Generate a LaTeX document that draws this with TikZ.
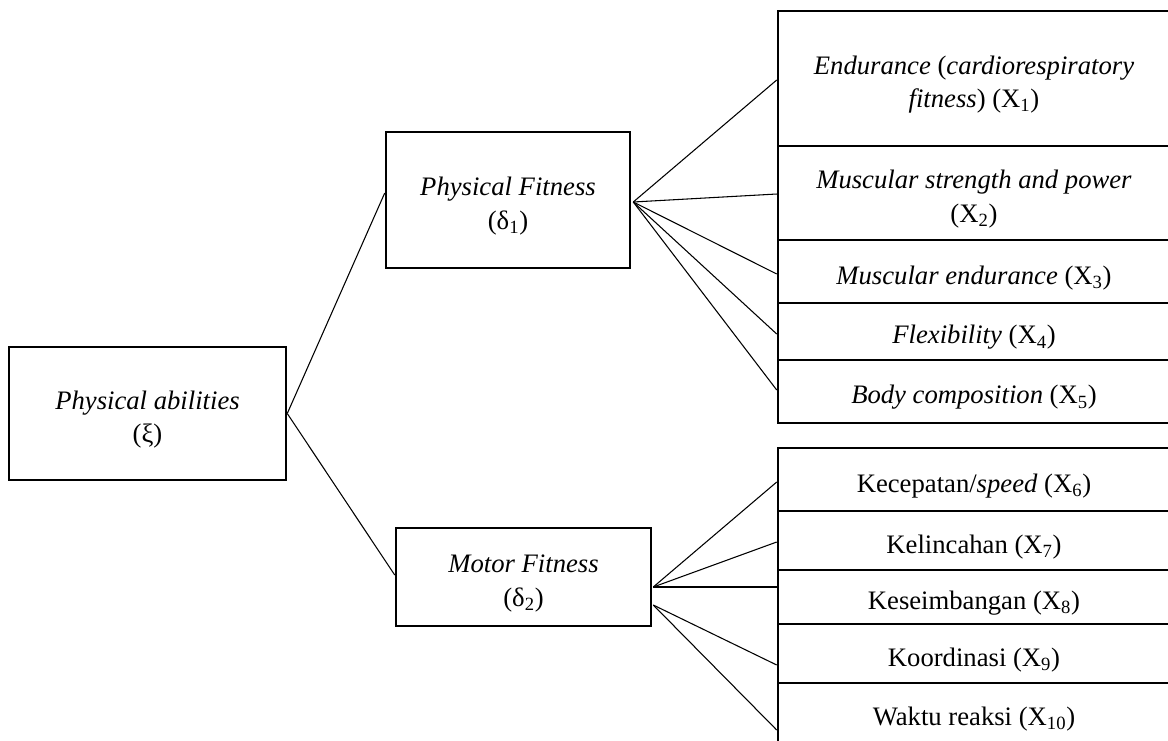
\documentclass[tikz,border=0pt]{standalone}
\usepackage{fontspec}
\setmainfont{Liberation Serif}
\usetikzlibrary{calc}
\newcommand\lowerstrut{\rule{0pt}{1.15em}}
\begin{document}
\begin{tikzpicture}[x=0.75pt,y=-0.75pt,
  box/.style={draw,line width=1.9pt,inner sep=0pt,align=center,
    font=\fontsize{20}{25}\selectfont},
  rowbox/.style={box,minimum width=294pt},
  link/.style={line width=0.8pt}]
\useasboundingbox (0,0) rectangle (1168,740);
% main boxes
\node[box,minimum width=207.75pt,minimum height=99.75pt] (pa) at (147.5,413.5)
  {\lowerstrut\textit{Physical abilities}\\(ξ)};
\node[box,minimum width=183pt,minimum height=102pt] (pf) at (508,200)
  {\lowerstrut\textit{Physical Fitness}\\(δ\textsubscript{1})};
\node[box,minimum width=191.25pt,minimum height=73.5pt] (mf) at (523.5,577)
  {\lowerstrut\textit{Motor Fitness}\\(δ\textsubscript{2})};
% physical fitness indicators
\node[rowbox,minimum height=101.25pt] (x1) at (974,78.5)
  {\lowerstrut\textit{Endurance} (\textit{cardiorespiratory}\\\textit{fitness}) (X\textsubscript{1})};
\node[rowbox,minimum height=70.5pt] (x2) at (974,193)
  {\lowerstrut\textit{Muscular strength and power}\\(X\textsubscript{2})};
\node[rowbox,minimum height=47.25pt] (x3) at (974,271.5)
  {\lowerstrut\textit{Muscular endurance} (X\textsubscript{3})};
\node[rowbox,minimum height=42.75pt] (x4) at (974,331.5)
  {\lowerstrut\textit{Flexibility} (X\textsubscript{4})};
\node[rowbox,minimum height=47.25pt] (x5) at (974,391.5)
  {\lowerstrut\textit{Body composition} (X\textsubscript{5})};
% motor fitness indicators
\node[rowbox,minimum height=47.25pt] (x6) at (974,479.5)
  {\lowerstrut Kecepatan/\textit{speed} (X\textsubscript{6})};
\node[rowbox,minimum height=44.25pt] (x7) at (974,540.5)
  {\lowerstrut Kelincahan (X\textsubscript{7})};
\node[rowbox,minimum height=40.5pt] (x8) at (974,597)
  {\lowerstrut Keseimbangan (X\textsubscript{8})};
\node[rowbox,minimum height=44.25pt] (x9) at (974,653.5)
  {\lowerstrut Koordinasi (X\textsubscript{9})};
\node[rowbox,minimum height=44.25pt] (x10) at (974,712.5)
  {\lowerstrut Waktu reaksi (X\textsubscript{10})};
% connectors
\draw[link] (pa.east) -- ($(pf.west)+(0,-7)$);
\draw[link] (pa.east) -- ($(mf.west)+(0,-2)$);
\coordinate (pfo) at ($(pf.east)+(2,2)$);
\foreach \t/\d in {x1/1.5,x2/1,x3/2.5,x4/2.5,x5/-1.5}
  \draw[link] (pfo) -- ($(\t.west)+(0,\d)$);
\coordinate (mfa) at ($(mf.east)+(1,10)$);
\coordinate (mfb) at ($(mf.east)+(1,28)$);
\draw[link] (mfa) -- ($(x6.west)+(0,2.5)$);
\draw[link] (mfa) -- ($(x7.west)+(0,1.5)$);
\draw[link] (mfa) -- ($(x8.west)+(0,-10)$);
\draw[link] (mfb) -- ($(x9.west)+(0,11.5)$);
\draw[link] (mfb) -- ($(x10.west)+(0,17.5)$);
\end{tikzpicture}
\end{document}
